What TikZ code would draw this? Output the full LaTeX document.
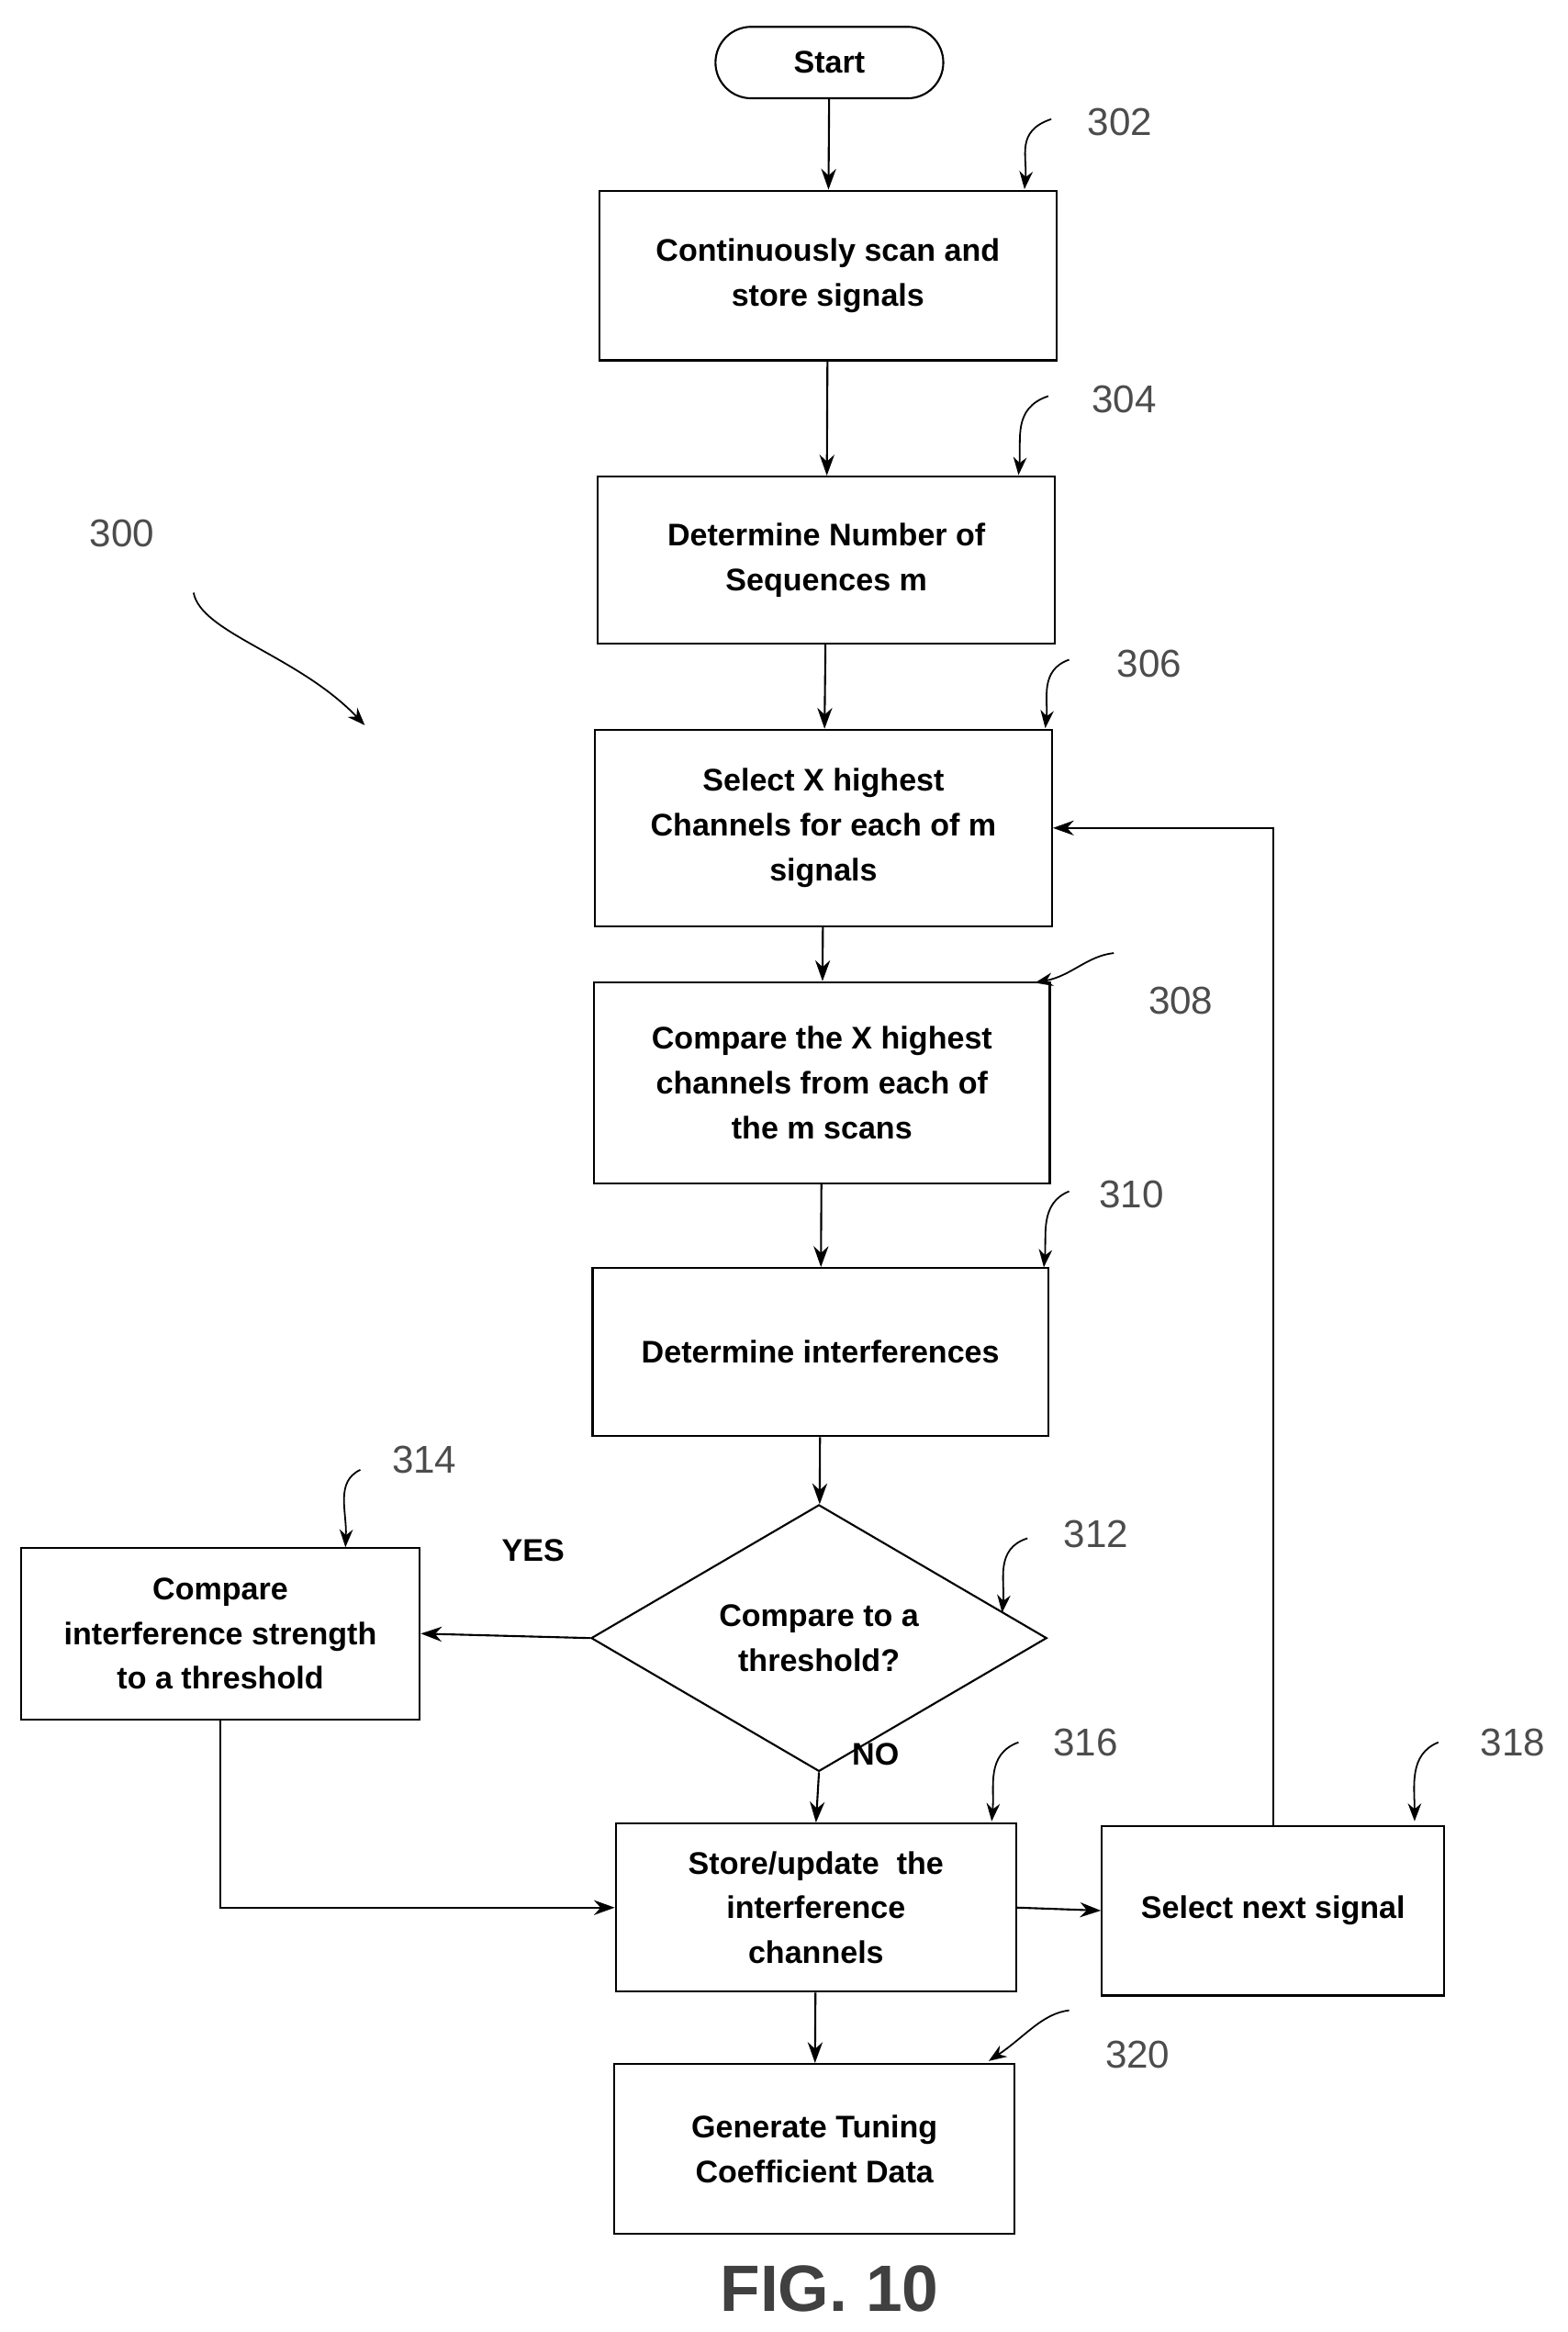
\documentclass[tikz,border=0pt]{standalone}
\usepackage{fontspec}
\setmainfont{Liberation Sans}
\usetikzlibrary{shapes.geometric,arrows.meta}
\begin{document}
\begin{tikzpicture}[x=1pt,y=-1pt,
  box/.style={draw,line width=1.3pt,align=center,font=\fontsize{21}{30}\selectfont\bfseries,inner sep=0},
  arr/.style={line width=1.3pt,-{Stealth[length=14pt,width=10pt]}},
  lead/.style={line width=1.1pt,-{Stealth[length=12pt,width=9pt]}},
  num/.style={font=\fontsize{26}{30}\selectfont,text=black!70}]
\useasboundingbox (0,0) rectangle (1053,1566);
\node[box,rounded corners=24pt,minimum width=153,minimum height=48] (s) at (557,42) {Start};
\node[box,minimum width=307,minimum height=114] (a) at (556,185) {Continuously scan and\\store signals};
\node[box,minimum width=307,minimum height=112] (b) at (555,376) {Determine Number of\\Sequences m};
\node[box,minimum width=307,minimum height=132] (c) at (553,556) {Select X highest\\Channels for each of m\\signals};
\node[box,minimum width=306,minimum height=135] (d) at (552,727) {Compare the X highest\\channels from each of\\the m scans};
\node[box,minimum width=306,minimum height=113] (e) at (551,908) {Determine interferences};
\node[box,diamond,minimum width=306,minimum height=114] (f) at (550,1100) {Compare to a\\threshold?};
\node[box,minimum width=268,minimum height=115] (g) at (148,1097) {Compare\\interference strength\\to a threshold};
\node[box,minimum width=269,minimum height=113] (h) at (548,1281) {Store/update\ \ the\\interference\\channels};
\node[box,minimum width=230,minimum height=114] (i) at (855,1283) {Select next signal};
\node[box,minimum width=269,minimum height=114] (j) at (547,1443) {Generate Tuning\\Coefficient Data};
\node[font=\fontsize{44}{50}\selectfont\bfseries,text=black!75] (fig) at (557,1537) {FIG. 10};
\node[font=\fontsize{21}{25}\selectfont\bfseries] (yes) at (358,1041) {YES};
\node[font=\fontsize{21}{25}\selectfont\bfseries] (no) at (588,1178) {NO};
\draw[arr] (s) -- (a); \draw[arr] (a) -- (b); \draw[arr] (b) -- (c);
\draw[arr] (c) -- (d); \draw[arr] (d) -- (e); \draw[arr] (e) -- (f);
\draw[arr] (f.west) -- (g.east);
\draw[arr] (f.south) -- (h.north);
\draw[arr] (g.south) |- (h.west);
\draw[arr] (h.east) -- (i.west);
\draw[arr] (i.north) |- (c.east);
\draw[arr] (h) -- (j);
\node[num] (n302) at (752,82) {302};
\node[num] (n304) at (755,268) {304};
\node[num] (n306) at (772,446) {306};
\node[num] (n308) at (793,672) {308};
\node[num] (n310) at (760,802) {310};
\node[num] (n314) at (285,980) {314};
\node[num] (n312) at (736,1030) {312};
\node[num] (n316) at (729,1170) {316};
\node[num] (n318) at (1016,1170) {318};
\node[num] (n320) at (764,1380) {320};
\node[num] (n300) at (82,358) {300};
\draw[lead] (706,80) .. controls (682,88) and (690,105) .. (688,127);
\draw[lead] (704,266) .. controls (680,274) and (686,295) .. (684,319);
\draw[lead] (718,443) .. controls (698,450) and (704,470) .. (702,489);
\draw[lead] (748,640) .. controls (730,642) and (720,655) .. (695,660);
\draw[lead] (718,800) .. controls (698,808) and (703,830) .. (701,851);
\draw[lead] (242,987) .. controls (225,995) and (233,1015) .. (232,1039);
\draw[lead] (690,1033) .. controls (668,1040) and (675,1062) .. (673,1083);
\draw[lead] (684,1170) .. controls (662,1178) and (668,1200) .. (666,1223);
\draw[lead] (966,1170) .. controls (946,1178) and (950,1200) .. (950,1223);
\draw[lead] (718,1350) .. controls (700,1352) and (688,1368) .. (664,1384);
\draw[lead] (130,398) .. controls (135,425) and (200,440) .. (245,487);
\end{tikzpicture}
\end{document}
